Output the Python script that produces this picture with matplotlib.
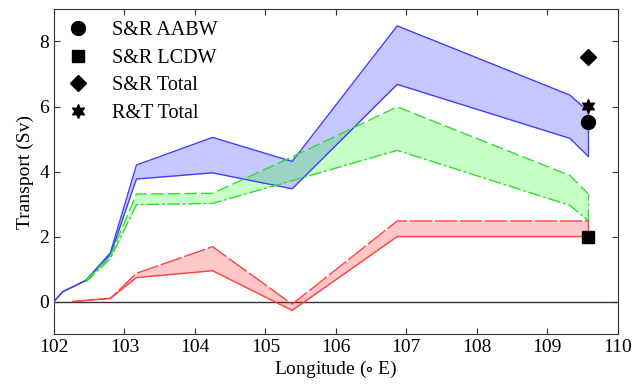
import matplotlib.pyplot as plt
import numpy as np

plt.rcParams['font.family'] = ['Liberation Serif', 'DejaVu Serif']
plt.rcParams['mathtext.fontset'] = 'stix'

# AABW band (blue)
x_aabw = [102.0, 102.12, 102.45, 102.8, 103.17, 104.25, 105.38, 106.87, 109.32, 109.58]
aabw_hi = [0.0, 0.3, 0.65, 1.5, 4.2, 5.05, 4.31, 8.48, 6.35, 5.85]
aabw_lo = [0.0, 0.3, 0.65, 1.43, 3.77, 3.96, 3.47, 6.68, 5.02, 4.47]

# Total band (green)
x_tot = [102.45, 102.8, 103.17, 104.25, 105.38, 106.87, 109.32, 109.58]
tot_hi = [0.65, 1.4, 3.31, 3.33, 4.45, 5.99, 3.88, 3.31]
tot_lo = [0.6, 1.32, 2.98, 3.02, 3.72, 4.65, 2.96, 2.49]

# LCDW band (red)
x_lcdw = [102.26, 102.8, 103.17, 104.25, 105.38, 106.87, 109.58]
lcdw_hi = [0.0, 0.1, 0.87, 1.69, -0.08, 2.48, 2.48]
lcdw_lo = [0.0, 0.1, 0.74, 0.95, -0.27, 2.0, 2.0]

# single estimates at the end of the section
pt_x = 109.58
pt_labels = ['S&R AABW', 'S&R LCDW', 'S&R Total', 'R&T Total']
pt_vals = [5.52, 2.0, 7.51, 6.02]
pt_marks = ['o', 's', 'D', (6, 1, 0)]
pt_sizes = [10, 9, 8, 10]

fig = plt.figure(figsize=(6.35, 3.89), dpi=100)
ax = fig.add_axes([0.085, 0.141, 0.888, 0.836])

ax.axhline(0, color='#333333', lw=1.0, zorder=1)

bands = [
    (x_aabw, aabw_hi, aabw_lo, '#4040ff', '#0000ff', '-', '-'),
    (x_tot, tot_hi, tot_lo, '#30dd30', '#00ff00', (0, (9, 3)), (0, (9, 2, 2, 2))),
    (x_lcdw, lcdw_hi, lcdw_lo, '#ff4040', '#ff0000', (0, (16, 2)), '-'),
]
for xs, hi, lo, lc, fc, ls_hi, ls_lo in bands:
    ax.fill_between(xs, lo, hi, color=fc, alpha=0.22, lw=0, zorder=2)
    ax.plot(xs, hi, color=lc, lw=1.0, ls=ls_hi, zorder=3)
    ax.plot(xs, lo, color=lc, lw=1.0, ls=ls_lo, zorder=3)
    ax.plot([xs[-1], xs[-1]], [lo[-1], hi[-1]], color=lc, lw=1.0, ls=ls_lo, zorder=3)

for lab, v, m, s in zip(pt_labels, pt_vals, pt_marks, pt_sizes):
    ax.plot([pt_x], [v], ls='none', marker=m, ms=s, color='black', label=lab, zorder=4)

ax.legend(loc='upper left', frameon=False, fontsize=14.5, handletextpad=1.1,
          labelspacing=0.42, borderaxespad=0.2, handlelength=1.2)

ax.set_xlim(102, 110)
ax.set_ylim(-1, 9)
ax.set_xticks(np.arange(102, 111, 1))
ax.set_yticks([0, 2, 4, 6, 8])
ax.tick_params(direction='in', top=True, right=True, labelsize=14, length=4, color='#333333')
for sp in ax.spines.values():
    sp.set_color('#333333')
ax.set_xlabel('Longitude ($\\circ$ E)', fontsize=14, labelpad=2)
ax.set_ylabel('Transport (Sv)', fontsize=14, labelpad=4)

fig.savefig('out.png', dpi=100)
